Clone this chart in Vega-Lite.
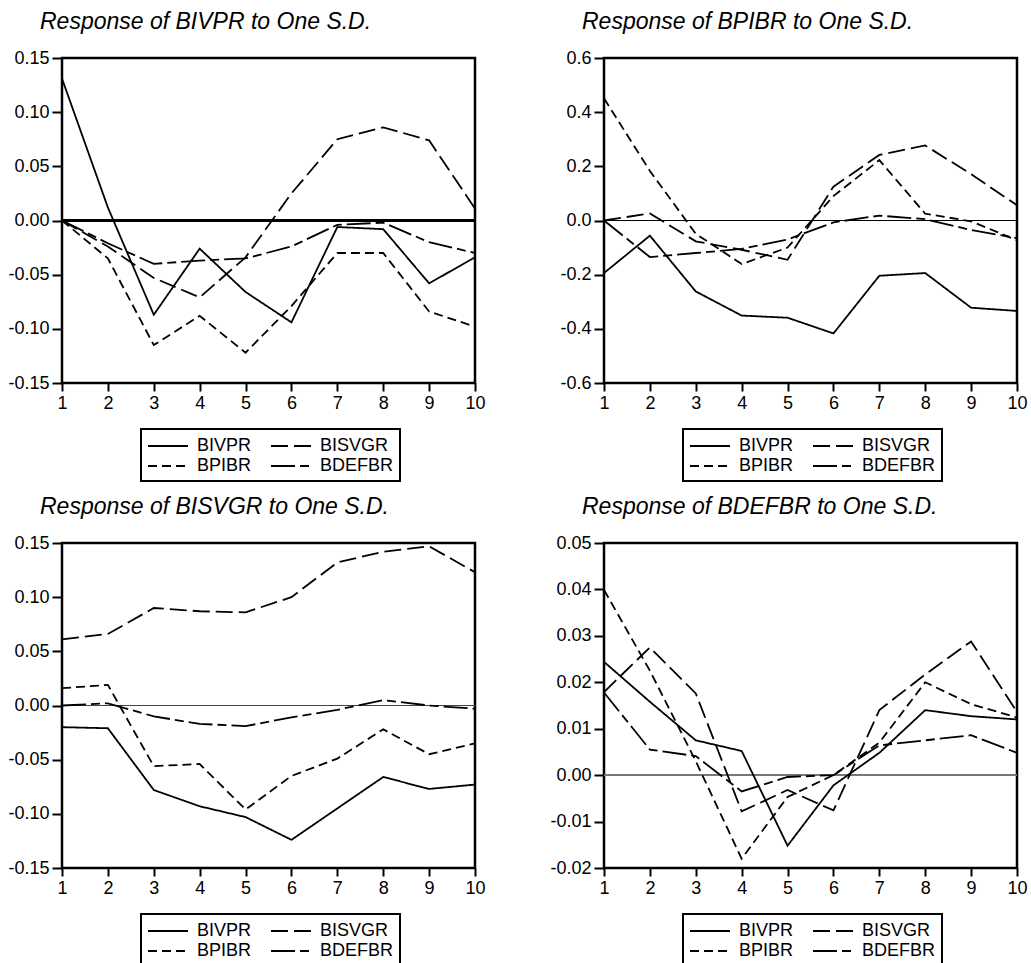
{
  "$schema": "https://vega.github.io/schema/vega-lite/v6.json",
  "padding": {"left": 6, "top": 9, "right": 0, "bottom": 0},
  "background": "white",
  "datasets": {
    "irf": [
      {"panel": "BIVPR", "series": "BIVPR", "t": 1, "v": 0.131}, {"panel": "BIVPR", "series": "BIVPR", "t": 2, "v": 0.012}, {"panel": "BIVPR", "series": "BIVPR", "t": 3, "v": -0.087}, {"panel": "BIVPR", "series": "BIVPR", "t": 4, "v": -0.026}, {"panel": "BIVPR", "series": "BIVPR", "t": 5, "v": -0.066}, {"panel": "BIVPR", "series": "BIVPR", "t": 6, "v": -0.094}, {"panel": "BIVPR", "series": "BIVPR", "t": 7, "v": -0.006}, {"panel": "BIVPR", "series": "BIVPR", "t": 8, "v": -0.008}, {"panel": "BIVPR", "series": "BIVPR", "t": 9, "v": -0.058}, {"panel": "BIVPR", "series": "BIVPR", "t": 10, "v": -0.034},
      {"panel": "BIVPR", "series": "BISVGR", "t": 1, "v": 0.0}, {"panel": "BIVPR", "series": "BISVGR", "t": 2, "v": -0.024}, {"panel": "BIVPR", "series": "BISVGR", "t": 3, "v": -0.053}, {"panel": "BIVPR", "series": "BISVGR", "t": 4, "v": -0.071}, {"panel": "BIVPR", "series": "BISVGR", "t": 5, "v": -0.034}, {"panel": "BIVPR", "series": "BISVGR", "t": 6, "v": 0.025}, {"panel": "BIVPR", "series": "BISVGR", "t": 7, "v": 0.075}, {"panel": "BIVPR", "series": "BISVGR", "t": 8, "v": 0.086}, {"panel": "BIVPR", "series": "BISVGR", "t": 9, "v": 0.074}, {"panel": "BIVPR", "series": "BISVGR", "t": 10, "v": 0.011},
      {"panel": "BIVPR", "series": "BPIBR", "t": 1, "v": 0.0}, {"panel": "BIVPR", "series": "BPIBR", "t": 2, "v": -0.035}, {"panel": "BIVPR", "series": "BPIBR", "t": 3, "v": -0.115}, {"panel": "BIVPR", "series": "BPIBR", "t": 4, "v": -0.088}, {"panel": "BIVPR", "series": "BPIBR", "t": 5, "v": -0.122}, {"panel": "BIVPR", "series": "BPIBR", "t": 6, "v": -0.079}, {"panel": "BIVPR", "series": "BPIBR", "t": 7, "v": -0.030}, {"panel": "BIVPR", "series": "BPIBR", "t": 8, "v": -0.030}, {"panel": "BIVPR", "series": "BPIBR", "t": 9, "v": -0.084}, {"panel": "BIVPR", "series": "BPIBR", "t": 10, "v": -0.098},
      {"panel": "BIVPR", "series": "BDEFBR", "t": 1, "v": 0.0}, {"panel": "BIVPR", "series": "BDEFBR", "t": 2, "v": -0.021}, {"panel": "BIVPR", "series": "BDEFBR", "t": 3, "v": -0.040}, {"panel": "BIVPR", "series": "BDEFBR", "t": 4, "v": -0.037}, {"panel": "BIVPR", "series": "BDEFBR", "t": 5, "v": -0.035}, {"panel": "BIVPR", "series": "BDEFBR", "t": 6, "v": -0.024}, {"panel": "BIVPR", "series": "BDEFBR", "t": 7, "v": -0.004}, {"panel": "BIVPR", "series": "BDEFBR", "t": 8, "v": -0.002}, {"panel": "BIVPR", "series": "BDEFBR", "t": 9, "v": -0.020}, {"panel": "BIVPR", "series": "BDEFBR", "t": 10, "v": -0.030},

      {"panel": "BPIBR", "series": "BIVPR", "t": 1, "v": -0.194}, {"panel": "BPIBR", "series": "BIVPR", "t": 2, "v": -0.056}, {"panel": "BPIBR", "series": "BIVPR", "t": 3, "v": -0.262}, {"panel": "BPIBR", "series": "BIVPR", "t": 4, "v": -0.351}, {"panel": "BPIBR", "series": "BIVPR", "t": 5, "v": -0.359}, {"panel": "BPIBR", "series": "BIVPR", "t": 6, "v": -0.417}, {"panel": "BPIBR", "series": "BIVPR", "t": 7, "v": -0.204}, {"panel": "BPIBR", "series": "BIVPR", "t": 8, "v": -0.194}, {"panel": "BPIBR", "series": "BIVPR", "t": 9, "v": -0.322}, {"panel": "BPIBR", "series": "BIVPR", "t": 10, "v": -0.334},
      {"panel": "BPIBR", "series": "BISVGR", "t": 1, "v": 0.0}, {"panel": "BPIBR", "series": "BISVGR", "t": 2, "v": 0.026}, {"panel": "BPIBR", "series": "BISVGR", "t": 3, "v": -0.077}, {"panel": "BPIBR", "series": "BISVGR", "t": 4, "v": -0.108}, {"panel": "BPIBR", "series": "BISVGR", "t": 5, "v": -0.145}, {"panel": "BPIBR", "series": "BISVGR", "t": 6, "v": 0.125}, {"panel": "BPIBR", "series": "BISVGR", "t": 7, "v": 0.242}, {"panel": "BPIBR", "series": "BISVGR", "t": 8, "v": 0.277}, {"panel": "BPIBR", "series": "BISVGR", "t": 9, "v": 0.171}, {"panel": "BPIBR", "series": "BISVGR", "t": 10, "v": 0.056},
      {"panel": "BPIBR", "series": "BPIBR", "t": 1, "v": 0.451}, {"panel": "BPIBR", "series": "BPIBR", "t": 2, "v": 0.183}, {"panel": "BPIBR", "series": "BPIBR", "t": 3, "v": -0.049}, {"panel": "BPIBR", "series": "BPIBR", "t": 4, "v": -0.161}, {"panel": "BPIBR", "series": "BPIBR", "t": 5, "v": -0.100}, {"panel": "BPIBR", "series": "BPIBR", "t": 6, "v": 0.090}, {"panel": "BPIBR", "series": "BPIBR", "t": 7, "v": 0.223}, {"panel": "BPIBR", "series": "BPIBR", "t": 8, "v": 0.025}, {"panel": "BPIBR", "series": "BPIBR", "t": 9, "v": -0.003}, {"panel": "BPIBR", "series": "BPIBR", "t": 10, "v": -0.073},
      {"panel": "BPIBR", "series": "BDEFBR", "t": 1, "v": 0.0}, {"panel": "BPIBR", "series": "BDEFBR", "t": 2, "v": -0.135}, {"panel": "BPIBR", "series": "BDEFBR", "t": 3, "v": -0.120}, {"panel": "BPIBR", "series": "BDEFBR", "t": 4, "v": -0.105}, {"panel": "BPIBR", "series": "BDEFBR", "t": 5, "v": -0.070}, {"panel": "BPIBR", "series": "BDEFBR", "t": 6, "v": -0.007}, {"panel": "BPIBR", "series": "BDEFBR", "t": 7, "v": 0.018}, {"panel": "BPIBR", "series": "BDEFBR", "t": 8, "v": 0.005}, {"panel": "BPIBR", "series": "BDEFBR", "t": 9, "v": -0.035}, {"panel": "BPIBR", "series": "BDEFBR", "t": 10, "v": -0.065},

      {"panel": "BISVGR", "series": "BIVPR", "t": 1, "v": -0.020}, {"panel": "BISVGR", "series": "BIVPR", "t": 2, "v": -0.021}, {"panel": "BISVGR", "series": "BIVPR", "t": 3, "v": -0.078}, {"panel": "BISVGR", "series": "BIVPR", "t": 4, "v": -0.093}, {"panel": "BISVGR", "series": "BIVPR", "t": 5, "v": -0.103}, {"panel": "BISVGR", "series": "BIVPR", "t": 6, "v": -0.124}, {"panel": "BISVGR", "series": "BIVPR", "t": 7, "v": -0.095}, {"panel": "BISVGR", "series": "BIVPR", "t": 8, "v": -0.066}, {"panel": "BISVGR", "series": "BIVPR", "t": 9, "v": -0.077}, {"panel": "BISVGR", "series": "BIVPR", "t": 10, "v": -0.073},
      {"panel": "BISVGR", "series": "BISVGR", "t": 1, "v": 0.061}, {"panel": "BISVGR", "series": "BISVGR", "t": 2, "v": 0.066}, {"panel": "BISVGR", "series": "BISVGR", "t": 3, "v": 0.090}, {"panel": "BISVGR", "series": "BISVGR", "t": 4, "v": 0.087}, {"panel": "BISVGR", "series": "BISVGR", "t": 5, "v": 0.086}, {"panel": "BISVGR", "series": "BISVGR", "t": 6, "v": 0.100}, {"panel": "BISVGR", "series": "BISVGR", "t": 7, "v": 0.132}, {"panel": "BISVGR", "series": "BISVGR", "t": 8, "v": 0.142}, {"panel": "BISVGR", "series": "BISVGR", "t": 9, "v": 0.147}, {"panel": "BISVGR", "series": "BISVGR", "t": 10, "v": 0.123},
      {"panel": "BISVGR", "series": "BPIBR", "t": 1, "v": 0.016}, {"panel": "BISVGR", "series": "BPIBR", "t": 2, "v": 0.019}, {"panel": "BISVGR", "series": "BPIBR", "t": 3, "v": -0.056}, {"panel": "BISVGR", "series": "BPIBR", "t": 4, "v": -0.054}, {"panel": "BISVGR", "series": "BPIBR", "t": 5, "v": -0.096}, {"panel": "BISVGR", "series": "BPIBR", "t": 6, "v": -0.065}, {"panel": "BISVGR", "series": "BPIBR", "t": 7, "v": -0.049}, {"panel": "BISVGR", "series": "BPIBR", "t": 8, "v": -0.022}, {"panel": "BISVGR", "series": "BPIBR", "t": 9, "v": -0.045}, {"panel": "BISVGR", "series": "BPIBR", "t": 10, "v": -0.035},
      {"panel": "BISVGR", "series": "BDEFBR", "t": 1, "v": 0.000}, {"panel": "BISVGR", "series": "BDEFBR", "t": 2, "v": 0.002}, {"panel": "BISVGR", "series": "BDEFBR", "t": 3, "v": -0.010}, {"panel": "BISVGR", "series": "BDEFBR", "t": 4, "v": -0.017}, {"panel": "BISVGR", "series": "BDEFBR", "t": 5, "v": -0.019}, {"panel": "BISVGR", "series": "BDEFBR", "t": 6, "v": -0.011}, {"panel": "BISVGR", "series": "BDEFBR", "t": 7, "v": -0.004}, {"panel": "BISVGR", "series": "BDEFBR", "t": 8, "v": 0.005}, {"panel": "BISVGR", "series": "BDEFBR", "t": 9, "v": 0.000}, {"panel": "BISVGR", "series": "BDEFBR", "t": 10, "v": -0.003},

      {"panel": "BDEFBR", "series": "BIVPR", "t": 1, "v": 0.0244}, {"panel": "BDEFBR", "series": "BIVPR", "t": 2, "v": 0.0158}, {"panel": "BDEFBR", "series": "BIVPR", "t": 3, "v": 0.0075}, {"panel": "BDEFBR", "series": "BIVPR", "t": 4, "v": 0.0052}, {"panel": "BDEFBR", "series": "BIVPR", "t": 5, "v": -0.0152}, {"panel": "BDEFBR", "series": "BIVPR", "t": 6, "v": -0.0022}, {"panel": "BDEFBR", "series": "BIVPR", "t": 7, "v": 0.0048}, {"panel": "BDEFBR", "series": "BIVPR", "t": 8, "v": 0.0140}, {"panel": "BDEFBR", "series": "BIVPR", "t": 9, "v": 0.0127}, {"panel": "BDEFBR", "series": "BIVPR", "t": 10, "v": 0.0120},
      {"panel": "BDEFBR", "series": "BISVGR", "t": 1, "v": 0.0179}, {"panel": "BDEFBR", "series": "BISVGR", "t": 2, "v": 0.0275}, {"panel": "BDEFBR", "series": "BISVGR", "t": 3, "v": 0.0176}, {"panel": "BDEFBR", "series": "BISVGR", "t": 4, "v": -0.0078}, {"panel": "BDEFBR", "series": "BISVGR", "t": 5, "v": -0.0032}, {"panel": "BDEFBR", "series": "BISVGR", "t": 6, "v": -0.0076}, {"panel": "BDEFBR", "series": "BISVGR", "t": 7, "v": 0.0140}, {"panel": "BDEFBR", "series": "BISVGR", "t": 8, "v": 0.0217}, {"panel": "BDEFBR", "series": "BISVGR", "t": 9, "v": 0.0288}, {"panel": "BDEFBR", "series": "BISVGR", "t": 10, "v": 0.0136},
      {"panel": "BDEFBR", "series": "BPIBR", "t": 1, "v": 0.0399}, {"panel": "BDEFBR", "series": "BPIBR", "t": 2, "v": 0.0225}, {"panel": "BDEFBR", "series": "BPIBR", "t": 3, "v": 0.0030}, {"panel": "BDEFBR", "series": "BPIBR", "t": 4, "v": -0.0180}, {"panel": "BDEFBR", "series": "BPIBR", "t": 5, "v": -0.0047}, {"panel": "BDEFBR", "series": "BPIBR", "t": 6, "v": 0.0000}, {"panel": "BDEFBR", "series": "BPIBR", "t": 7, "v": 0.0070}, {"panel": "BDEFBR", "series": "BPIBR", "t": 8, "v": 0.0200}, {"panel": "BDEFBR", "series": "BPIBR", "t": 9, "v": 0.0153}, {"panel": "BDEFBR", "series": "BPIBR", "t": 10, "v": 0.0124},
      {"panel": "BDEFBR", "series": "BDEFBR", "t": 1, "v": 0.0178}, {"panel": "BDEFBR", "series": "BDEFBR", "t": 2, "v": 0.0055}, {"panel": "BDEFBR", "series": "BDEFBR", "t": 3, "v": 0.0041}, {"panel": "BDEFBR", "series": "BDEFBR", "t": 4, "v": -0.0035}, {"panel": "BDEFBR", "series": "BDEFBR", "t": 5, "v": -0.0004}, {"panel": "BDEFBR", "series": "BDEFBR", "t": 6, "v": 0.0000}, {"panel": "BDEFBR", "series": "BDEFBR", "t": 7, "v": 0.0064}, {"panel": "BDEFBR", "series": "BDEFBR", "t": 8, "v": 0.0075}, {"panel": "BDEFBR", "series": "BDEFBR", "t": 9, "v": 0.0086}, {"panel": "BDEFBR", "series": "BDEFBR", "t": 10, "v": 0.0048}
    ]
  },
  "data": {"name": "irf"},
  "columns": 2,
  "spacing": {"row": 10, "column": 61},
  "resolve": {"scale": {"strokeDash": "independent", "x": "independent", "y": "independent"}, "legend": {"strokeDash": "independent"}},
  "concat": [
    {
      "title": "Response of BIVPR to One S.D.",
      "width": 413, "height": 325,
      "transform": [{"filter": "datum.panel === 'BIVPR'"}],
      "layer": [
        {"mark": {"type": "rule", "color": "black", "strokeWidth": 2}, "encoding": {"y": {"datum": 0, "type": "quantitative", "title": null}}},
        {"mark": {"type": "line", "color": "black", "strokeWidth": 1.8},
         "encoding": {
           "x": {"field": "t", "type": "quantitative", "title": null, "scale": {"domain": [1, 10], "nice": false, "zero": false}, "axis": {"values": [1,2,3,4,5,6,7,8,9,10], "format": "d"}},
           "y": {"field": "v", "type": "quantitative", "title": null, "scale": {"domain": [-0.15, 0.15], "nice": false, "zero": false}, "axis": {"values": [-0.15,-0.1,-0.05,0,0.05,0.1,0.15], "labelExpr": "replace(format(datum.value, '.2f'), '\u2212', '-')"}},
           "strokeDash": {"field": "series", "type": "nominal", "scale": {"domain": ["BIVPR", "BISVGR", "BPIBR", "BDEFBR"], "range": [[1, 0], [17, 6], [9, 5], [24, 5, 9, 5]]}, "legend": {"title": null}},
           "detail": {"field": "series"},
           "order": {"field": "t"}
         }}
      ]
    },
    {
      "title": "Response of BPIBR to One S.D.",
      "width": 413, "height": 325,
      "transform": [{"filter": "datum.panel === 'BPIBR'"}],
      "layer": [
        {"mark": {"type": "rule", "color": "black", "strokeWidth": 1}, "encoding": {"y": {"datum": 0, "type": "quantitative", "title": null}}},
        {"mark": {"type": "line", "color": "black", "strokeWidth": 1.8},
         "encoding": {
           "x": {"field": "t", "type": "quantitative", "title": null, "scale": {"domain": [1, 10], "nice": false, "zero": false}, "axis": {"values": [1,2,3,4,5,6,7,8,9,10], "format": "d"}},
           "y": {"field": "v", "type": "quantitative", "title": null, "scale": {"domain": [-0.6, 0.6], "nice": false, "zero": false}, "axis": {"values": [-0.6,-0.4,-0.2,0,0.2,0.4,0.6], "labelExpr": "replace(format(datum.value, '.1f'), '\u2212', '-')"}},
           "strokeDash": {"field": "series", "type": "nominal", "scale": {"domain": ["BIVPR", "BISVGR", "BPIBR", "BDEFBR"], "range": [[1, 0], [17, 6], [9, 5], [24, 5, 9, 5]]}, "legend": {"title": null}},
           "detail": {"field": "series"},
           "order": {"field": "t"}
         }}
      ]
    },
    {
      "title": "Response of BISVGR to One S.D.",
      "width": 413, "height": 325,
      "transform": [{"filter": "datum.panel === 'BISVGR'"}],
      "layer": [
        {"mark": {"type": "rule", "color": "#444444", "strokeWidth": 1.2}, "encoding": {"y": {"datum": 0, "type": "quantitative", "title": null}}},
        {"mark": {"type": "line", "color": "black", "strokeWidth": 1.8},
         "encoding": {
           "x": {"field": "t", "type": "quantitative", "title": null, "scale": {"domain": [1, 10], "nice": false, "zero": false}, "axis": {"values": [1,2,3,4,5,6,7,8,9,10], "format": "d"}},
           "y": {"field": "v", "type": "quantitative", "title": null, "scale": {"domain": [-0.15, 0.15], "nice": false, "zero": false}, "axis": {"values": [-0.15,-0.1,-0.05,0,0.05,0.1,0.15], "labelExpr": "replace(format(datum.value, '.2f'), '\u2212', '-')"}},
           "strokeDash": {"field": "series", "type": "nominal", "scale": {"domain": ["BIVPR", "BISVGR", "BPIBR", "BDEFBR"], "range": [[1, 0], [17, 6], [9, 5], [24, 5, 9, 5]]}, "legend": {"title": null}},
           "detail": {"field": "series"},
           "order": {"field": "t"}
         }}
      ]
    },
    {
      "title": "Response of BDEFBR to One S.D.",
      "width": 413, "height": 325,
      "transform": [{"filter": "datum.panel === 'BDEFBR'"}],
      "layer": [
        {"mark": {"type": "rule", "color": "#777777", "strokeWidth": 1.5}, "encoding": {"y": {"datum": 0, "type": "quantitative", "title": null}}},
        {"mark": {"type": "line", "color": "black", "strokeWidth": 1.8},
         "encoding": {
           "x": {"field": "t", "type": "quantitative", "title": null, "scale": {"domain": [1, 10], "nice": false, "zero": false}, "axis": {"values": [1,2,3,4,5,6,7,8,9,10], "format": "d"}},
           "y": {"field": "v", "type": "quantitative", "title": null, "scale": {"domain": [-0.02, 0.05], "nice": false, "zero": false}, "axis": {"values": [-0.02,-0.01,0,0.01,0.02,0.03,0.04,0.05], "labelExpr": "replace(format(datum.value, '.2f'), '\u2212', '-')"}},
           "strokeDash": {"field": "series", "type": "nominal", "scale": {"domain": ["BIVPR", "BISVGR", "BPIBR", "BDEFBR"], "range": [[1, 0], [17, 6], [9, 5], [24, 5, 9, 5]]}, "legend": {"title": null}},
           "detail": {"field": "series"},
           "order": {"field": "t"}
         }}
      ]
    }
  ],
  "config": {
    "font": "Liberation Sans",
    "view": {"stroke": "black", "strokeWidth": 2.5},
    "title": {"fontSize": 23, "fontStyle": "italic", "fontWeight": "normal", "anchor": "start", "frame": "group", "dx": -22, "offset": 15, "color": "black", "font": "Liberation Sans"},
    "axis": {"domain": false, "grid": false, "ticks": true, "tickColor": "black", "tickWidth": 2, "tickSize": 10, "labelFontSize": 18, "labelColor": "black", "labelPadding": 3, "labelFont": "Liberation Sans", "labelFlush": false, "labelOverlap": false},
    "axisX": {"tickSize": 8},
    "axisY": {"minExtent": 50, "maxExtent": 50},
    "legend": {"orient": "none", "direction": "horizontal", "legendX": 79, "legendY": 371, "columns": 2, "symbolType": "M-1,0L3,0", "symbolSize": 400, "symbolStrokeWidth": 2, "symbolStrokeColor": "black", "symbolFillColor": "transparent", "labelFontSize": 18, "labelColor": "black", "labelFont": "Liberation Sans", "labelOffset": 28, "columnPadding": 15, "rowPadding": 0, "padding": 6, "strokeColor": "black", "strokeWidth": 2, "fillColor": "white"}
  }
}
